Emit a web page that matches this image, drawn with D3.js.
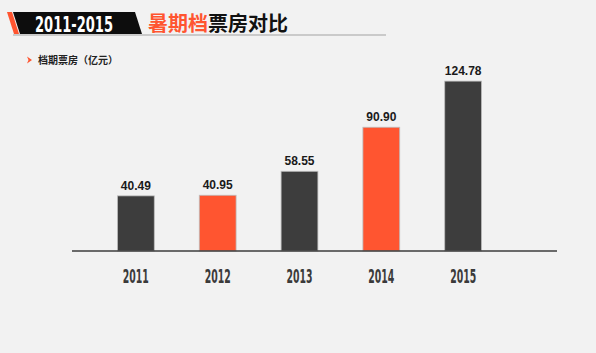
<!DOCTYPE html>
<html>
<head>
<meta charset="utf-8">
<script src="https://cdn.jsdelivr.net/npm/d3@7"></script>
<style>
  body { margin: 0; background: #f2f2f2; }
  #chart { width: 596px; height: 353px; }
  text { font-family: "Noto Sans CJK SC", "Liberation Sans", sans-serif; }
</style>
</head>
<body>
<div id="chart"></div>
<script>
var years = ['2011', '2012', '2013', '2014', '2015'];
var boxOffice = [40.49, 40.95, 58.55, 90.90, 124.78];
var barColors = ['#3d3d3d', '#ff5530', '#3d3d3d', '#ff5530', '#3d3d3d'];

var svg = d3.select('#chart').append('svg')
  .attr('width', 596)
  .attr('height', 353);

svg.append('rect').attr('width', 596).attr('height', 353).attr('fill', '#f2f2f2');

// title banner
svg.append('line')
  .attr('x1', 13).attr('x2', 386).attr('y1', 35).attr('y2', 35)
  .attr('stroke', '#bdbdbd').attr('stroke-width', 1.5);
svg.append('path')
  .attr('d', 'M13,12 L135,12 L142,34 L20,34 Z')
  .attr('fill', '#0d0d0d');
svg.append('path')
  .attr('d', 'M7,12 L12,12 L19,34 L14,34 Z')
  .attr('fill', '#ff5530');
svg.append('text')
  .attr('x', 35).attr('y', 32)
  .attr('textLength', 78).attr('lengthAdjust', 'spacingAndGlyphs')
  .style('font-family', '"DejaVu Sans Condensed", "DejaVu Sans", sans-serif')
  .style('font-weight', 'bold').style('font-size', '21px')
  .attr('fill', '#fff')
  .text('2011-2015');

var title = svg.append('text')
  .attr('x', 148).attr('y', 31)
  .style('font-weight', 'bold').style('font-size', '20px');
title.append('tspan').attr('fill', '#ff5530').text('暑期档');
title.append('tspan').attr('fill', '#111').text('票房对比');

// subtitle
svg.append('path')
  .attr('d', 'M27,56.5 L32,60 L27,63.5 L28.5,60 Z')
  .attr('fill', '#ff5530');
svg.append('text')
  .attr('x', 38).attr('y', 64)
  .style('font-weight', 'bold').style('font-size', '10px')
  .attr('fill', '#222')
  .text('档期票房（亿元）');

// chart
var x = d3.scaleBand()
  .domain(years)
  .range([97, 502])
  .paddingInner(0.55)
  .paddingOuter(0.25);

var y = d3.scaleLinear()
  .domain([0, 130])
  .range([251, 74]);

var g = svg.append('g');

g.selectAll('rect.bar')
  .data(boxOffice)
  .enter().append('rect')
  .attr('class', 'bar')
  .attr('x', function(d, i) { return x(years[i]); })
  .attr('y', function(d) { return y(d); })
  .attr('width', x.bandwidth())
  .attr('height', function(d) { return y(0) - y(d); })
  .attr('fill', function(d, i) { return barColors[i]; })
  .attr('stroke', '#bdbdbd')
  .attr('stroke-width', 0.8);

g.selectAll('text.val')
  .data(boxOffice)
  .enter().append('text')
  .attr('class', 'val')
  .attr('x', function(d, i) { return x(years[i]) + x.bandwidth() / 2; })
  .attr('y', function(d) { return y(d) - 6; })
  .attr('text-anchor', 'middle')
  .style('font-family', '"Liberation Sans", sans-serif')
  .style('font-weight', 'bold').style('font-size', '12px')
  .attr('fill', '#1a1a1a')
  .text(function(d) { return d.toFixed(2); });

var axis = svg.append('g')
  .attr('transform', 'translate(0,251)')
  .call(d3.axisBottom(x).tickSize(0).tickPadding(18));
axis.select('.domain').remove();
axis.append('line')
  .attr('x1', 72).attr('x2', 557)
  .attr('stroke', '#3d3d3d').attr('stroke-width', 1.3);
axis.selectAll('.tick text')
  .attr('textLength', 26).attr('lengthAdjust', 'spacingAndGlyphs')
  .style('font-family', '"DejaVu Sans Condensed", "DejaVu Sans", sans-serif')
  .style('font-weight', 'bold').style('font-size', '20px')
  .attr('fill', '#3a3a3a');
</script>
</body>
</html>
